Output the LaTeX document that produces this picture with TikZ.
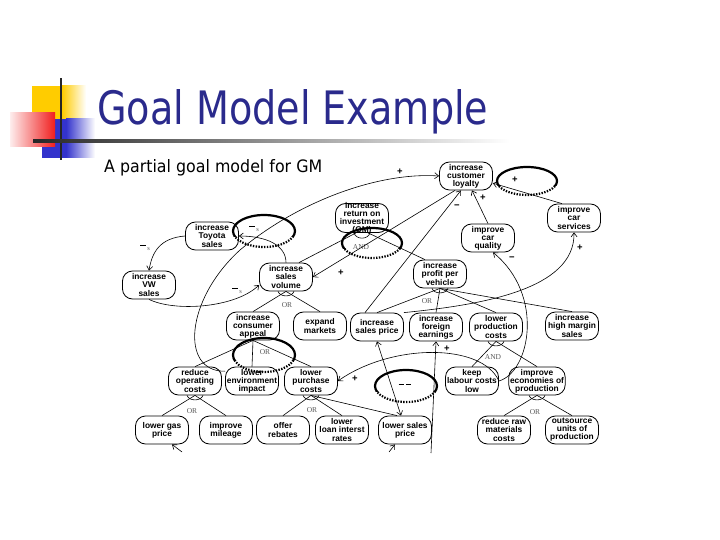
\documentclass[tikz,border=0pt]{standalone}
\usepackage{fontspec}
\usepackage{graphicx}
\usetikzlibrary{arrows.meta}

\newfontfamily\goalfont{Liberation Sans}
\newfontfamily\headfont{DejaVu Sans}
\newfontfamily\gatefont{Liberation Serif}

\definecolor{titleblue}{RGB}{42,42,140}
\definecolor{boxyellow}{RGB}{255,204,0}
\definecolor{boxblue}{RGB}{51,51,204}
\definecolor{boxred}{RGB}{240,30,30}
\definecolor{gategray}{RGB}{90,90,90}

% thick ring, dotted along its lower part
\newcommand{\markring}[4]{%
  \begin{scope}
    \clip (#1-#3-3,#2-#4-3) rectangle (#1+#3+3,#2+0.35*#4);
    \draw[ring] (#1,#2) ellipse [x radius=#3, y radius=#4];
  \end{scope}
  \begin{scope}
    \clip (#1-#3-3,#2+0.35*#4) rectangle (#1+#3+3,#2+#4+3);
    \draw[ring,dash pattern=on 1.4bp off 1.4bp] (#1,#2) ellipse [x radius=#3, y radius=#4];
  \end{scope}}
% minus with a small s
\newcommand{\negs}{\rule[2.6bp]{5.5bp}{1.1bp}\,\raisebox{-1.5bp}{\gatefont\mdseries\color{gategray}\fontsize{6.5}{6.5}\selectfont s}}

\begin{document}
\begin{tikzpicture}[x=1bp,y=-1bp,
  goal/.style={draw, rounded corners=10bp, line width=0.8bp, minimum width=53bp,
    minimum height=28bp, inner xsep=1.2bp, inner ysep=1.5bp, align=center,
    font=\goalfont\bfseries\fontsize{8.4}{8.1}\selectfont},
  link/.style={line width=0.6bp},
  arr/.style={link, -{Straight Barb[length=4bp,width=6bp]}},
  arrs/.style={link, {Straight Barb[length=4bp,width=6bp]}-{Straight Barb[length=4bp,width=6bp]}},
  gate/.style={font=\gatefont\fontsize{7.5}{7.5}\selectfont, text=gategray, inner sep=0pt},
  sign/.style={font=\goalfont\bfseries\fontsize{9.5}{9.5}\selectfont, inner sep=0pt},
  ring/.style={line width=2.2bp}]
  \fill[white] (0,0) rectangle (720,540);
  \useasboundingbox (0,0) rectangle (720,540);

  % slide decoration
  \fill[boxyellow] (32,86) rectangle (62,120);
  \shade[left color=boxyellow, right color=white] (62,86) rectangle (86,120);
  \fill[boxblue] (42,119) rectangle (66,158);
  \shade[left color=boxblue, right color=white] (66,119) rectangle (95,158);
  \shade[left color=boxred!8, right color=boxred] (10,113) rectangle (55,147);
  \fill[black!85] (59.8,78) rectangle (62.4,160);
  \shade[left color=black!85, right color=white] (33,139.8) rectangle (510,142.4);

  \node[anchor=base west, inner sep=0pt, text=titleblue] (title) at (97,125)
    {\resizebox{391bp}{35bp}{\headfont Goal Model Example}};
  \node[anchor=base west, inner sep=0pt] (subtitle) at (104,172.5)
    {\resizebox{218bp}{13bp}{\headfont A partial goal model for GM}};

  % goals
  \node[goal] (loyal) at (466,176) {increase\\customer\\loyalty};
  \node[goal, inner ysep=-1.5bp] (roi) at (362,218) {increase\\return on\\investment\\(GM)};
  \node[goal] (toyota) at (212,236) {increase\\Toyota\\sales};
  \node[goal] (services) at (574,218) {improve\\car\\services};
  \node[goal] (quality) at (488,238) {improve\\car\\quality};
  \node[goal] (vw) at (149,285) {increase\\VW\\sales};
  \node[goal] (volume) at (286,277) {increase\\sales\\volume};
  \node[goal] (profit) at (440,274) {increase\\profit per\\vehicle};
  \node[goal] (appeal) at (253,326) {increase\\consumer\\appeal};
  \node[goal] (markets) at (320,326) {expand\\markets};
  \node[goal] (price) at (377,327) {increase\\sales price};
  \node[goal] (foreign) at (436,327) {increase\\foreign\\earnings};
  \node[goal] (prodcost) at (496,327) {lower\\production\\costs};
  \node[goal] (margin) at (572,326) {increase\\high margin\\sales};
  \node[goal] (opcost) at (195,381) {reduce\\operating\\costs};
  \node[goal] (envir) at (252,381) {lower\\environment\\impact};
  \node[goal] (purchase) at (311,381) {lower\\purchase\\costs};
  \node[goal] (labour) at (472,381) {keep\\labour costs\\low};
  \node[goal] (economies) at (537,381) {improve\\economies of\\production};
  \node[goal] (gas) at (162,430) {lower gas\\price};
  \node[goal] (mileage) at (226,430) {improve\\mileage};
  \node[goal] (rebates) at (283,430) {offer\\rebates};
  \node[goal] (loan) at (342,430) {lower\\loan interst\\rates};
  \node[goal] (lowprice) at (405,430) {lower sales\\price};
  \node[goal] (rawmat) at (504,430) {reduce raw\\materials\\costs};
  \node[goal] (outsource) at (572,430) {outsource\\units of\\production};

  % decompositions
  \draw[link] ([xshift=-6bp]roi.south) -- ([xshift=13bp]volume.north);
  \draw[link] ([xshift=6bp]roi.south) -- ([xshift=-15bp]profit.north);
  \draw[link] ([xshift=-8bp]roi.south) .. controls +(2,7) and +(-2,7) .. ([xshift=8bp]roi.south);
  \node[gate] (and1) at (361,247) {AND};

  \draw[link] (volume.south) -- (appeal.north);
  \draw[link] (volume.south) -- (markets.north);
  \draw[link] ([xshift=-8bp]volume.south) .. controls +(2,6) and +(-2,6) .. ([xshift=8bp]volume.south);
  \node[gate] (or1) at (287,305) {OR};

  \draw[link] (appeal.south) -- (opcost.north);
  \draw[link] (appeal.south) -- (envir.north);
  \draw[link] (appeal.south) -- (purchase.north);
  \node[gate] (or2) at (265,352) {OR};

  \draw[link] (opcost.south) -- (gas.north);
  \draw[link] (opcost.south) -- (mileage.north);
  \draw[link] ([xshift=-8bp]opcost.south) .. controls +(2,6) and +(-2,6) .. ([xshift=8bp]opcost.south);
  \node[gate] (or3) at (192,411) {OR};

  \draw[link] (purchase.south) -- (rebates.north);
  \draw[link] (purchase.south) -- (loan.north);
  \draw[link] (purchase.south) -- ([xshift=-8bp]lowprice.north);
  \draw[link] ([xshift=-8bp]purchase.south) .. controls +(2,6) and +(-2,6) .. ([xshift=8bp]purchase.south);
  \node[gate] (or4) at (312,410) {OR};

  \draw[link] (profit.south) -- (price.north);
  \draw[link] (profit.south) -- (foreign.north);
  \draw[link] (profit.south) -- (prodcost.north);
  \draw[link] (profit.south) -- (margin.north);
  \draw[link] ([xshift=-8bp]profit.south) .. controls +(2,6) and +(-2,6) .. ([xshift=8bp]profit.south);
  \node[gate] (or5) at (427,301) {OR};

  \draw[link] (prodcost.south) -- (labour.north);
  \draw[link] (prodcost.south) -- (economies.north);
  \draw[link] ([xshift=-8bp]prodcost.south) .. controls +(2,6) and +(-2,6) .. ([xshift=8bp]prodcost.south);
  \node[gate] (and2) at (493,357) {AND};

  \draw[link] (economies.south) -- (rawmat.north);
  \draw[link] (economies.south) -- (outsource.north);
  \draw[link] ([xshift=-8bp]economies.south) .. controls +(2,6) and +(-2,6) .. ([xshift=8bp]economies.south);
  \node[gate] (or6) at (535,412) {OR};

  % contributions
  \draw[arr] (volume.north) .. controls (286,245) and (266,236) .. (toyota.east);
  \draw[arr] (toyota.west) .. controls (160,238) and (152,252) .. (vw.north);
  \draw[arr] (vw.south) .. controls (175,312) and (235,308) .. ([yshift=-8bp]volume.west);
  \draw[arr] (envir.160) .. controls (180,372) and (185,300) .. (240,250)
    .. controls (300,200) and (380,172) .. (loyal.west);
  \draw[arr] ([xshift=-11bp]loyal.south) -- (volume.east);
  \draw[arr] ([xshift=-12bp]price.north) -- ([xshift=-5bp]loyal.south);
  \draw[arr] (quality.north) -- ([xshift=6bp]loyal.south);
  \draw[arr] (services.130) -- (loyal.-15);
  \draw[arr] (price.north east) .. controls (480,305) and (575,290) .. (services.south);
  \draw[arr] (labour.east) .. controls (482,343) and (392,343) .. (purchase.east);
  \draw[arr] (labour.east) .. controls (530,372) and (545,295) .. ([xshift=5bp]quality.south);
  \draw[arrs] (price.south) -- ([xshift=-4bp]lowprice.north);
  \coordinate (fin) at (431,453);
  \coordinate (lin) at (389,452);
  \coordinate (gin) at (182,452);
  \draw[arr] (fin) -- (foreign.south);
  \draw[arr] (lin) -- ([xshift=-10bp]lowprice.south);
  \draw[arr] (gin) -- ([xshift=10bp]gas.south);

  % labels
  \node[sign] at (400,172) {+};
  \node[sign] at (515,180) {+};
  \node[sign] at (483,198) {+};
  \node[sign] at (457,207) {−};
  \node[sign] at (341,273) {+};
  \node[sign] at (580,248) {+};
  \node[sign] at (512,259) {−};
  \node[sign] at (447,349) {+};
  \node[sign] at (355,379) {+};
  \node[sign] at (405,386) {\rule[2.6bp]{5.5bp}{1.1bp}\,\rule[2.6bp]{5.5bp}{1.1bp}};
  \node[sign] at (254,229) {\negs};
  \node[sign] at (145,248) {\negs};
  \node[sign] at (237,291) {\negs};

  % highlight rings
  \markring{264}{231}{31}{16}
  \markring{372}{243}{30}{15}
  \markring{527}{181}{30}{14}
  \markring{264}{355}{31}{17}
  \markring{406}{386}{31}{16}
\end{tikzpicture}
\end{document}
